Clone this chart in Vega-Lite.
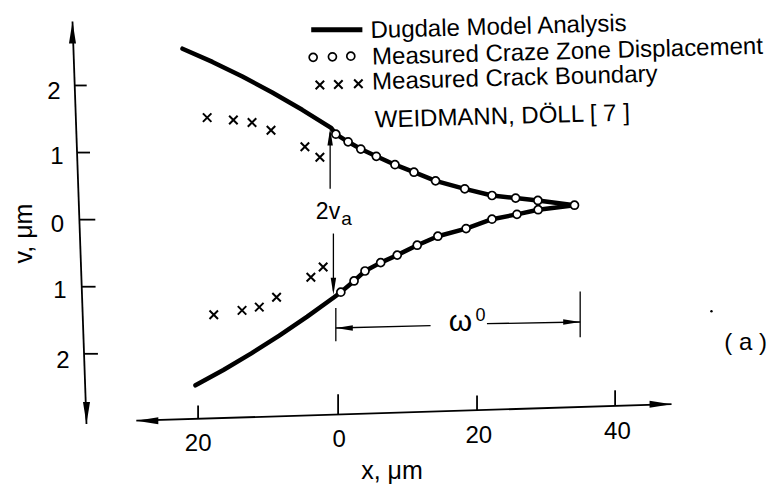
{
  "$schema": "https://vega.github.io/schema/vega-lite/v6.json",
  "width": 767,
  "height": 484,
  "autosize": {"type": "fit", "contains": "padding"},
  "padding": 0,
  "background": "white",
  "config": {"view": {"stroke": null}},
  "datasets": {
    "curve": [
      {"x": -22.45, "v": 2.548, "branch": "upper"},
      {"x": -18.13, "v": 2.351, "branch": "upper"},
      {"x": -13.81, "v": 2.133, "branch": "upper"},
      {"x": -9.50, "v": 1.896, "branch": "upper"},
      {"x": -5.18, "v": 1.637, "branch": "upper"},
      {"x": -1.01, "v": 1.367, "branch": "upper"},
      {"x": -0.33, "v": 1.274, "branch": "upper"},
      {"x": 1.44, "v": 1.160, "branch": "upper"},
      {"x": 3.27, "v": 1.052, "branch": "upper"},
      {"x": 5.51, "v": 0.944, "branch": "upper"},
      {"x": 8.20, "v": 0.819, "branch": "upper"},
      {"x": 10.94, "v": 0.707, "branch": "upper"},
      {"x": 14.06, "v": 0.578, "branch": "upper"},
      {"x": 18.27, "v": 0.459, "branch": "upper"},
      {"x": 22.20, "v": 0.360, "branch": "upper"},
      {"x": 25.61, "v": 0.321, "branch": "upper"},
      {"x": 28.82, "v": 0.286, "branch": "upper"},
      {"x": 34.10, "v": 0.215, "branch": "upper"},
      {"x": -20.58, "v": -2.470, "branch": "lower"},
      {"x": -16.55, "v": -2.241, "branch": "lower"},
      {"x": -12.52, "v": -1.994, "branch": "lower"},
      {"x": -8.49, "v": -1.729, "branch": "lower"},
      {"x": -4.46, "v": -1.446, "branch": "lower"},
      {"x": -0.43, "v": -1.145, "branch": "lower"},
      {"x": 0.39, "v": -1.081, "branch": "lower"},
      {"x": 2.30, "v": -0.914, "branch": "lower"},
      {"x": 3.88, "v": -0.766, "branch": "lower"},
      {"x": 6.14, "v": -0.641, "branch": "lower"},
      {"x": 8.53, "v": -0.529, "branch": "lower"},
      {"x": 11.41, "v": -0.381, "branch": "lower"},
      {"x": 14.39, "v": -0.247, "branch": "lower"},
      {"x": 18.46, "v": -0.133, "branch": "lower"},
      {"x": 22.20, "v": 0.007, "branch": "lower"},
      {"x": 25.80, "v": 0.079, "branch": "lower"},
      {"x": 28.86, "v": 0.148, "branch": "lower"},
      {"x": 34.10, "v": 0.215, "branch": "lower"}
    ],
    "circles": [
      {"x": -0.33, "v": 1.274, "set": "upper"},
      {"x": 1.44, "v": 1.160, "set": "upper"},
      {"x": 3.27, "v": 1.052, "set": "upper"},
      {"x": 5.51, "v": 0.944, "set": "upper"},
      {"x": 8.20, "v": 0.819, "set": "upper"},
      {"x": 10.94, "v": 0.707, "set": "upper"},
      {"x": 14.06, "v": 0.578, "set": "upper"},
      {"x": 18.27, "v": 0.459, "set": "upper"},
      {"x": 22.20, "v": 0.360, "set": "upper"},
      {"x": 25.61, "v": 0.321, "set": "upper"},
      {"x": 28.82, "v": 0.286, "set": "upper"},
      {"x": 34.10, "v": 0.215, "set": "tip"},
      {"x": 0.39, "v": -1.081, "set": "lower"},
      {"x": 2.30, "v": -0.914, "set": "lower"},
      {"x": 3.88, "v": -0.766, "set": "lower"},
      {"x": 6.14, "v": -0.641, "set": "lower"},
      {"x": 8.53, "v": -0.529, "set": "lower"},
      {"x": 11.41, "v": -0.381, "set": "lower"},
      {"x": 14.39, "v": -0.247, "set": "lower"},
      {"x": 18.46, "v": -0.133, "set": "lower"},
      {"x": 22.20, "v": 0.007, "set": "lower"},
      {"x": 25.80, "v": 0.079, "set": "lower"},
      {"x": 28.86, "v": 0.148, "set": "lower"},
      {"x": -3.60, "v": 2.419, "set": "legend"},
      {"x": -0.82, "v": 2.427, "set": "legend"},
      {"x": 1.83, "v": 2.437, "set": "legend"}
    ],
    "crosses": [
      {"x": -18.89, "v": 1.521, "set": "upper"},
      {"x": -15.11, "v": 1.486, "set": "upper"},
      {"x": -12.42, "v": 1.447, "set": "upper"},
      {"x": -9.68, "v": 1.333, "set": "upper"},
      {"x": -4.79, "v": 1.086, "set": "upper"},
      {"x": -2.63, "v": 0.929, "set": "upper"},
      {"x": -17.94, "v": -1.418, "set": "lower"},
      {"x": -13.86, "v": -1.353, "set": "lower"},
      {"x": -11.37, "v": -1.304, "set": "lower"},
      {"x": -8.88, "v": -1.156, "set": "lower"},
      {"x": -3.93, "v": -0.859, "set": "lower"},
      {"x": -2.16, "v": -0.707, "set": "lower"},
      {"x": -2.63, "v": 2.007, "set": "legend"},
      {"x": 0.04, "v": 2.015, "set": "legend"},
      {"x": 2.92, "v": 2.025, "set": "legend"}
    ],
    "segments": [
      {"x": -38.32, "v": 2.953, "x2": -36.30, "v2": -3.047, "kind": "axis"},
      {"x": -29.11, "v": -2.997, "x2": 48.10, "v2": -2.751, "kind": "axis"},
      {"x": -38.00, "v": 2, "x2": -36.27, "v2": 2, "kind": "axis"},
      {"x": -37.66, "v": 1, "x2": -35.79, "v2": 1, "kind": "axis"},
      {"x": -37.33, "v": 0, "x2": -35.03, "v2": 0, "kind": "axis"},
      {"x": -36.99, "v": -1, "x2": -34.99, "v2": -1, "kind": "axis"},
      {"x": -36.65, "v": -2, "x2": -34.65, "v2": -2, "kind": "axis"},
      {"x": -20.2, "v": -2.968, "x2": -20.2, "v2": -2.770, "kind": "axis"},
      {"x": 0, "v": -2.904, "x2": 0, "v2": -2.603, "kind": "axis"},
      {"x": 20.04, "v": -2.840, "x2": 20.04, "v2": -2.622, "kind": "axis"},
      {"x": 39.96, "v": -2.776, "x2": 39.96, "v2": -2.544, "kind": "axis"},
      {"x": -1.15, "v": 0.459, "x2": -1.15, "v2": 1.30, "kind": "thin"},
      {"x": -0.68, "v": -0.207, "x2": -0.68, "v2": -1.06, "kind": "thin"},
      {"x": -0.33, "v": -1.319, "x2": -0.33, "v2": -1.812, "kind": "thin"},
      {"x": 34.92, "v": -1.071, "x2": 34.92, "v2": -1.753, "kind": "thin"},
      {"x": -0.33, "v": -1.615, "x2": 13.34, "v2": -1.580, "kind": "thin"},
      {"x": 21.47, "v": -1.551, "x2": 34.92, "v2": -1.526, "kind": "thin"},
      {"x": -3.88, "v": 2.830, "x2": 3.50, "v2": 2.830, "kind": "legend"}
    ],
    "arrows": [
      {"x": -38.32, "v": 2.953, "dir": "up", "kind": "big"},
      {"x": -36.30, "v": -3.047, "dir": "down", "kind": "big"},
      {"x": -29.11, "v": -2.997, "dir": "left", "kind": "big"},
      {"x": 48.10, "v": -2.751, "dir": "right", "kind": "big"},
      {"x": -1.15, "v": 1.36, "dir": "up", "kind": "small"},
      {"x": -0.68, "v": -1.121, "dir": "down", "kind": "small"},
      {"x": -0.33, "v": -1.615, "dir": "left", "kind": "small"},
      {"x": 34.92, "v": -1.526, "dir": "right", "kind": "small"}
    ],
    "dots": [
      {"x": 53.86, "v": -1.367}
    ],
    "labels": [
      {"x": 4.71, "v": 2.707, "text": "Dugdale Model Analysis", "role": "legend"},
      {"x": 4.94, "v": 2.311, "text": "Measured Craze Zone Displacement", "role": "legend"},
      {"x": 4.94, "v": 1.941, "text": "Measured Crack Boundary", "role": "legend"},
      {"x": 5.32, "v": 1.373, "text": "WEIDMANN, DÖLL [ 7 ]", "role": "legend"},
      {"x": -41.01, "v": 1.793, "text": "2", "role": "tick"},
      {"x": -40.58, "v": 0.830, "text": "1", "role": "tick"},
      {"x": -40.50, "v": -0.182, "text": "0", "role": "tick"},
      {"x": -40.14, "v": -1.170, "text": "1", "role": "tick"},
      {"x": -39.71, "v": -2.207, "text": "2", "role": "tick"},
      {"x": -20.19, "v": -3.442, "text": "20", "role": "tick"},
      {"x": 0.14, "v": -3.393, "text": "0", "role": "tick"},
      {"x": 20.29, "v": -3.333, "text": "20", "role": "tick"},
      {"x": 40.29, "v": -3.270, "text": "40", "role": "tick"},
      {"x": 58.78, "v": -1.936, "text": "( a )", "role": "tick"},
      {"x": 7.77, "v": -3.862, "text": "x, μm", "role": "xtitle"},
      {"x": -44.17, "v": -0.207, "text": "v, μm", "role": "ytitle"},
      {"x": -3.21, "v": 0.004, "text": "2v", "role": "va"},
      {"x": 0.45, "v": -0.084, "text": "a", "role": "sub"},
      {"x": 17.65, "v": -1.664, "text": "ω", "role": "omega"},
      {"x": 20.55, "v": -1.511, "text": "0", "role": "sup"}
    ]
  },
  "encoding": {
    "x": {"field": "x", "type": "quantitative", "scale": {"domain": [-48.777, 61.583], "nice": false, "zero": false}, "axis": null},
    "y": {"field": "v", "type": "quantitative", "scale": {"domain": [-3.896, 3.274], "nice": false, "zero": false}, "axis": null}
  },
  "layer": [
    {
      "data": {"name": "segments"},
      "transform": [{"filter": "datum.kind === 'axis'"}],
      "mark": {"type": "rule", "color": "black", "strokeWidth": 1.8},
      "encoding": {"x2": {"field": "x2"}, "y2": {"field": "v2"}}
    },
    {
      "data": {"name": "segments"},
      "transform": [{"filter": "datum.kind === 'thin'"}],
      "mark": {"type": "rule", "color": "black", "strokeWidth": 1.3},
      "encoding": {"x2": {"field": "x2"}, "y2": {"field": "v2"}}
    },
    {
      "data": {"name": "segments"},
      "transform": [{"filter": "datum.kind === 'legend'"}],
      "mark": {"type": "rule", "color": "black", "strokeWidth": 5},
      "encoding": {"x2": {"field": "x2"}, "y2": {"field": "v2"}}
    },
    {
      "data": {"name": "curve"},
      "mark": {"type": "line", "color": "black", "strokeWidth": 4.5, "interpolate": "linear", "strokeCap": "round", "strokeJoin": "round"},
      "encoding": {"detail": {"field": "branch", "type": "nominal"}}
    },
    {
      "data": {"name": "arrows"},
      "transform": [{"filter": "datum.kind === 'big'"}],
      "mark": {"type": "point", "filled": true, "color": "black", "opacity": 1, "size": 1936},
      "encoding": {"shape": {"field": "dir", "type": "nominal", "legend": null, "scale": {"domain": ["up", "down", "left", "right"], "range": ["M0,0L-0.16,1L0.16,1Z", "M0,0L-0.16,-1L0.16,-1Z", "M0,0L1,-0.16L1,0.16Z", "M0,0L-1,-0.16L-1,0.16Z"]}}}
    },
    {
      "data": {"name": "arrows"},
      "transform": [{"filter": "datum.kind === 'small'"}],
      "mark": {"type": "point", "filled": true, "color": "black", "opacity": 1, "size": 1156},
      "encoding": {"shape": {"field": "dir", "type": "nominal", "legend": null, "scale": {"domain": ["up", "down", "left", "right"], "range": ["M0,0L-0.16,1L0.16,1Z", "M0,0L-0.16,-1L0.16,-1Z", "M0,0L1,-0.15L1,0.15Z", "M0,0L-1,-0.15L-1,0.15Z"]}}}
    },
    {
      "data": {"name": "circles"},
      "mark": {"type": "point", "shape": "circle", "filled": true, "fill": "white", "stroke": "black", "strokeWidth": 1.7, "opacity": 1, "size": 64}
    },
    {
      "data": {"name": "crosses"},
      "mark": {"type": "point", "shape": "M-1,-1L1,1M-1,1L1,-1", "filled": false, "stroke": "black", "strokeWidth": 2, "opacity": 1, "size": 72}
    },
    {
      "data": {"name": "dots"},
      "mark": {"type": "point", "shape": "circle", "filled": true, "color": "black", "opacity": 1, "size": 6}
    },
    {
      "data": {"name": "labels"},
      "transform": [{"filter": "datum.role === 'legend'"}],
      "mark": {"type": "text", "align": "left", "baseline": "alphabetic", "font": "Liberation Sans", "fontSize": 24, "angle": -1.6, "color": "black"},
      "encoding": {"text": {"field": "text"}}
    },
    {
      "data": {"name": "labels"},
      "transform": [{"filter": "datum.role === 'tick'"}],
      "mark": {"type": "text", "align": "center", "baseline": "alphabetic", "font": "Liberation Sans", "fontSize": 24, "color": "black"},
      "encoding": {"text": {"field": "text"}}
    },
    {
      "data": {"name": "labels"},
      "transform": [{"filter": "datum.role === 'xtitle'"}],
      "mark": {"type": "text", "align": "center", "baseline": "alphabetic", "font": "Liberation Sans", "fontSize": 25, "color": "black"},
      "encoding": {"text": {"field": "text"}}
    },
    {
      "data": {"name": "labels"},
      "transform": [{"filter": "datum.role === 'ytitle'"}],
      "mark": {"type": "text", "align": "center", "baseline": "alphabetic", "font": "Liberation Sans", "fontSize": 25, "angle": 270, "color": "black"},
      "encoding": {"text": {"field": "text"}}
    },
    {
      "data": {"name": "labels"},
      "transform": [{"filter": "datum.role === 'va'"}],
      "mark": {"type": "text", "align": "left", "baseline": "alphabetic", "font": "Liberation Sans", "fontSize": 23, "color": "black"},
      "encoding": {"text": {"field": "text"}}
    },
    {
      "data": {"name": "labels"},
      "transform": [{"filter": "datum.role === 'sub'"}],
      "mark": {"type": "text", "align": "left", "baseline": "alphabetic", "font": "Liberation Sans", "fontSize": 19, "color": "black"},
      "encoding": {"text": {"field": "text"}}
    },
    {
      "data": {"name": "labels"},
      "transform": [{"filter": "datum.role === 'omega'"}],
      "mark": {"type": "text", "align": "center", "baseline": "alphabetic", "font": "Liberation Sans", "fontSize": 30, "color": "black"},
      "encoding": {"text": {"field": "text"}}
    },
    {
      "data": {"name": "labels"},
      "transform": [{"filter": "datum.role === 'sup'"}],
      "mark": {"type": "text", "align": "center", "baseline": "alphabetic", "font": "Liberation Sans", "fontSize": 18, "color": "black"},
      "encoding": {"text": {"field": "text"}}
    }
  ]
}
